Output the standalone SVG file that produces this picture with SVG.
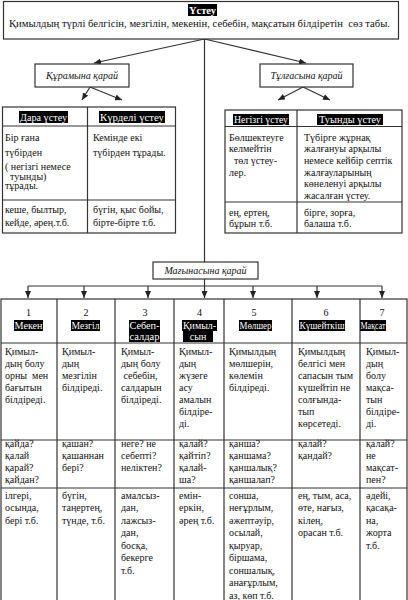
<svg xmlns="http://www.w3.org/2000/svg" width="408" height="600" viewBox="0 0 408 600">
<style>
.t{font-family:"Liberation Serif","Times New Roman",serif;font-size:10px;fill:#111;white-space:pre}
.ht{fill:#fff;text-anchor:middle}
.hl{fill:#000}
.it{font-style:italic;text-anchor:middle}
.c{text-anchor:middle}
.ln{stroke:#333;stroke-width:1.2;fill:none}
.box{fill:#fff;stroke:#333;stroke-width:1.2}
</style>
<defs>
<marker id="ah" markerUnits="userSpaceOnUse" markerWidth="8" markerHeight="6" refX="7" refY="3" orient="auto">
<path d="M0,0 L7,3 L0,6 z" fill="#222"/>
</marker>
</defs>
<rect width="408" height="600" fill="#fff"/>

<g id="connectors" class="ln">
<line x1="204.5" y1="39" x2="204.5" y2="262"/>
<line x1="204.5" y1="39" x2="94" y2="63" marker-end="url(#ah)"/>
<line x1="204.5" y1="39" x2="306" y2="63" marker-end="url(#ah)"/>
<line x1="90" y1="87" x2="82" y2="100" marker-end="url(#ah)"/>
<line x1="90" y1="87" x2="122" y2="100" marker-end="url(#ah)"/>
<line x1="303" y1="87" x2="278" y2="100" marker-end="url(#ah)"/>
<line x1="303" y1="87" x2="330" y2="100" marker-end="url(#ah)"/>
<line x1="204.5" y1="279" x2="204.5" y2="286"/>
<line x1="28" y1="286" x2="382" y2="286"/>
<line x1="28" y1="286" x2="28" y2="298" marker-end="url(#ah)"/>
<line x1="84" y1="286" x2="84" y2="298" marker-end="url(#ah)"/>
<line x1="148" y1="286" x2="148" y2="298" marker-end="url(#ah)"/>
<line x1="204.5" y1="286" x2="204.5" y2="298" marker-end="url(#ah)"/>
<line x1="253" y1="286" x2="253" y2="298" marker-end="url(#ah)"/>
<line x1="317" y1="286" x2="317" y2="298" marker-end="url(#ah)"/>
<line x1="382" y1="286" x2="382" y2="298" marker-end="url(#ah)"/>
</g>

<g id="ustеu-root">
<rect class="box" x="3.5" y="1.5" width="395" height="37.5"/>
<rect class="hl" x="188" y="4" width="29" height="12"/>
<text class="t ht" x="202.5" y="13.5" font-weight="bold" textLength="27" lengthAdjust="spacingAndGlyphs">Үстеу</text>
<text class="t" x="9" y="27" textLength="381" lengthAdjust="spacingAndGlyphs">Қимылдың түрлі белгісін, мезгілін, мекенін, себебін, мақсатын білдіретін  сөз табы.</text>
</g>

<g id="by-composition">
<rect class="box" x="35" y="64" width="94" height="23"/>
<text class="t it" x="82" y="79">Құрамына қарай</text>
</g>

<g id="by-form">
<rect class="box" x="260" y="64" width="93" height="23"/>
<text class="t it" x="306.5" y="79">Тұлғасына қарай</text>
</g>

<g id="table-composition">
<rect class="box" x="2.5" y="107" width="173" height="126"/>
<line class="ln" x1="87.5" y1="107" x2="87.5" y2="233"/>
<line class="ln" x1="2.5" y1="126" x2="175.5" y2="126"/>
<line class="ln" x1="2.5" y1="200" x2="175.5" y2="200"/>
<rect class="hl" x="19" y="111" width="49" height="12"/>
<text class="t ht" x="43.5" y="120.5" textLength="47" lengthAdjust="spacingAndGlyphs">Дара үстеу</text>
<rect class="hl" x="99" y="111" width="66" height="12"/>
<text class="t ht" x="132" y="120.5" textLength="64" lengthAdjust="spacingAndGlyphs">Күрделі үстеу</text>
<text class="t" x="5" y="140.5">Бір ғана</text>
<text class="t" x="5" y="155.5">түбірден</text>
<text class="t" x="5" y="169.5" font-size="9">( негізгі немесе</text>
<text class="t" x="5" y="179.5" font-size="9">  туынды)</text>
<text class="t" x="5" y="189">тұрады.</text>
<text class="t" x="93" y="140.5">Кемінде екі</text>
<text class="t" x="93" y="155.5">түбірден тұрады.</text>
<text class="t" x="5" y="212.5">кеше, былтыр,</text>
<text class="t" x="5" y="225.5">кейде, әрең.т.б.</text>
<text class="t" x="93" y="212.5">бүгін, қыс бойы,</text>
<text class="t" x="93" y="225.5">бірте-бірте т.б.</text>
</g>

<g id="table-form">
<rect class="box" x="225" y="110" width="177" height="123"/>
<line class="ln" x1="297" y1="110" x2="297" y2="233"/>
<line class="ln" x1="225" y1="126.5" x2="402" y2="126.5"/>
<line class="ln" x1="225" y1="202" x2="402" y2="202"/>
<rect class="hl" x="233" y="114" width="56" height="11"/>
<text class="t ht" x="261" y="122.5" textLength="54" lengthAdjust="spacingAndGlyphs">Негізгі үстеу</text>
<rect class="hl" x="317" y="114" width="66" height="11"/>
<text class="t ht" x="350" y="122.5" textLength="62" lengthAdjust="spacingAndGlyphs">Туынды үстеу</text>
<text class="t" x="229" y="140.5">Бөлшектеуге</text>
<text class="t" x="229" y="152">келмейтін</text>
<text class="t" x="229" y="163.5">  төл үстеу-</text>
<text class="t" x="229" y="175.5">лер.</text>
<text class="t" x="304" y="140.5">Түбірге жұрнақ</text>
<text class="t" x="304" y="152">жалғануы арқылы</text>
<text class="t" x="304" y="163.5">немесе кейбір септік</text>
<text class="t" x="304" y="175.5">жалғауларының</text>
<text class="t" x="304" y="187">көнеленуі арқылы</text>
<text class="t" x="304" y="198.5">жасалған үстеу.</text>
<text class="t" x="229" y="215.5">ең, ертең,</text>
<text class="t" x="229" y="226.5">бұрын т.б.</text>
<text class="t" x="304" y="215.5">бірге, зорға,</text>
<text class="t" x="304" y="226.5">балаша т.б.</text>
</g>

<g id="by-meaning">
<rect class="box" x="153" y="262" width="105" height="17"/>
<text class="t it" x="205.5" y="274">Мағынасына қарай</text>
</g>

<g id="table-meaning-grid" class="ln">
<rect x="1" y="299" width="406" height="305"/>
<line x1="1" y1="343" x2="407" y2="343"/>
<line x1="1" y1="440" x2="407" y2="440"/>
<line x1="1" y1="488" x2="407" y2="488"/>
<line x1="57" y1="299" x2="57" y2="600"/>
<line x1="115" y1="299" x2="115" y2="600"/>
<line x1="174" y1="299" x2="174" y2="600"/>
<line x1="224" y1="299" x2="224" y2="600"/>
<line x1="292" y1="299" x2="292" y2="600"/>
<line x1="360" y1="299" x2="360" y2="600"/>
</g>

<g id="col-1">
<text class="t c" x="28.5" y="315.5">1</text>
<rect class="hl" x="14" y="320" width="29" height="11"/>
<text class="t ht" x="28.5" y="329" textLength="28" lengthAdjust="spacingAndGlyphs">Мекен</text>
<text class="t" x="5" y="355">Қимыл-</text>
<text class="t" x="5" y="367">дың болу</text>
<text class="t" x="5" y="379">орны  мен</text>
<text class="t" x="5" y="391">бағытын</text>
<text class="t" x="5" y="403">білдіреді.</text>
<text class="t" x="5" y="446.5">қайда?</text>
<text class="t" x="5" y="458.5">қалай</text>
<text class="t" x="5" y="470.5">қарай?</text>
<text class="t" x="5" y="482.5">қайдан?</text>
<text class="t" x="5" y="498.5">ілгері,</text>
<text class="t" x="5" y="511">осында,</text>
<text class="t" x="5" y="523.5">бері т.б.</text>
</g>

<g id="col-2">
<text class="t c" x="86" y="315.5">2</text>
<rect class="hl" x="71" y="320" width="29" height="11"/>
<text class="t ht" x="85.5" y="329" textLength="28" lengthAdjust="spacingAndGlyphs">Мезгіл</text>
<text class="t" x="62" y="355">Қимыл-</text>
<text class="t" x="62" y="367">дың</text>
<text class="t" x="62" y="379">мезгілін</text>
<text class="t" x="62" y="391">білдіреді.</text>
<text class="t" x="62" y="446.5">қашан?</text>
<text class="t" x="62" y="458.5">қашаннан</text>
<text class="t" x="62" y="470.5">бері?</text>
<text class="t" x="62" y="498.5">бүгін,</text>
<text class="t" x="62" y="511">таңертең,</text>
<text class="t" x="62" y="523.5">түнде, т.б.</text>
</g>

<g id="col-3">
<text class="t c" x="145" y="315.5">3</text>
<rect class="hl" x="129" y="320" width="31" height="11"/>
<text class="t ht" x="144.5" y="329" textLength="30" lengthAdjust="spacingAndGlyphs">Себеп-</text>
<rect class="hl" x="129" y="331" width="31" height="11"/>
<text class="t ht" x="144.5" y="340" textLength="30" lengthAdjust="spacingAndGlyphs">салдар</text>
<text class="t" x="121" y="355">Қимыл-</text>
<text class="t" x="121" y="367">дың болу</text>
<text class="t" x="121" y="379"> себебін,</text>
<text class="t" x="121" y="391">салдарын</text>
<text class="t" x="121" y="403">білдіреді.</text>
<text class="t" x="121" y="446.5">неге? не</text>
<text class="t" x="121" y="458.5">себепті?</text>
<text class="t" x="121" y="470.5">неліктен?</text>
<text class="t" x="121" y="498.5">амалсыз-</text>
<text class="t" x="121" y="511">дан,</text>
<text class="t" x="121" y="523.5">лажсыз-</text>
<text class="t" x="121" y="536">дан,</text>
<text class="t" x="121" y="548.5">босқа,</text>
<text class="t" x="121" y="561">бекерге</text>
<text class="t" x="121" y="573.5">т.б.</text>
</g>

<g id="col-4">
<text class="t c" x="199.5" y="315.5">4</text>
<rect class="hl" x="182" y="320" width="35" height="11"/>
<text class="t ht" x="199.5" y="329" textLength="33" lengthAdjust="spacingAndGlyphs">Қимыл-</text>
<rect class="hl" x="183" y="331" width="30" height="11"/>
<text class="t ht" x="198" y="340">сын</text>
<text class="t" x="179" y="355">Қимыл-</text>
<text class="t" x="179" y="367">дың</text>
<text class="t" x="179" y="379">жүзеге</text>
<text class="t" x="179" y="391">асу</text>
<text class="t" x="179" y="403">амалын</text>
<text class="t" x="179" y="415">білдіре-</text>
<text class="t" x="179" y="427">ді.</text>
<text class="t" x="179" y="446.5">қалай?</text>
<text class="t" x="179" y="458.5">қайтіп?</text>
<text class="t" x="179" y="470.5">қалай-</text>
<text class="t" x="179" y="482.5">ша?</text>
<text class="t" x="179" y="498.5">емін-</text>
<text class="t" x="179" y="511">еркін,</text>
<text class="t" x="179" y="523.5">әрең т.б.</text>
</g>

<g id="col-5">
<text class="t c" x="254" y="315.5">5</text>
<rect class="hl" x="239" y="320" width="33" height="11"/>
<text class="t ht" x="255.5" y="329" textLength="32" lengthAdjust="spacingAndGlyphs">Мөлшер</text>
<text class="t" x="229" y="355">Қимылдың</text>
<text class="t" x="229" y="367">мөлшерін,</text>
<text class="t" x="229" y="379">көлемін</text>
<text class="t" x="229" y="391">білдіреді.</text>
<text class="t" x="229" y="446.5">қанша?</text>
<text class="t" x="229" y="458.5">қаншама?</text>
<text class="t" x="229" y="470.5">қаншалық?</text>
<text class="t" x="229" y="482.5">қаншалап?</text>
<text class="t" x="229" y="498.5">сонша,</text>
<text class="t" x="229" y="511">неғұрлым,</text>
<text class="t" x="229" y="523.5">әжептәуір,</text>
<text class="t" x="229" y="536">осылай,</text>
<text class="t" x="229" y="548.5">қыруар,</text>
<text class="t" x="229" y="561">біршама,</text>
<text class="t" x="229" y="573.5">соншалық,</text>
<text class="t" x="229" y="586">анағұрлым,</text>
<text class="t" x="229" y="598.5">аз, көп т.б.</text>
</g>

<g id="col-6">
<text class="t c" x="326" y="315.5">6</text>
<rect class="hl" x="299" y="320" width="46" height="11"/>
<text class="t ht" x="322" y="329" textLength="45" lengthAdjust="spacingAndGlyphs">Күшейткіш</text>
<text class="t" x="298" y="355">Қимылдың</text>
<text class="t" x="298" y="367">белгісі мен</text>
<text class="t" x="298" y="379">сапасын тым</text>
<text class="t" x="298" y="391">күшейтіп не</text>
<text class="t" x="298" y="403">солғында-</text>
<text class="t" x="298" y="415">тып</text>
<text class="t" x="298" y="427">көрсетеді.</text>
<text class="t" x="298" y="446.5">қалай?</text>
<text class="t" x="298" y="458.5">қандай?</text>
<text class="t" x="298" y="498.5">ең, тым, аса,</text>
<text class="t" x="298" y="511">өте, нағыз,</text>
<text class="t" x="298" y="523.5">кілең,</text>
<text class="t" x="298" y="536">орасан т.б.</text>
</g>

<g id="col-7">
<text class="t c" x="382" y="315.5">7</text>
<rect class="hl" x="360" y="320" width="26" height="11"/>
<text class="t ht" x="373" y="329" textLength="25" lengthAdjust="spacingAndGlyphs">Мақсат</text>
<text class="t" x="366" y="355">Қимыл-</text>
<text class="t" x="366" y="367">дың</text>
<text class="t" x="366" y="379">болу</text>
<text class="t" x="366" y="391">мақса-</text>
<text class="t" x="366" y="403">тын</text>
<text class="t" x="366" y="415">білдіре-</text>
<text class="t" x="366" y="427">ді.</text>
<text class="t" x="366" y="446.5">қалай?</text>
<text class="t" x="366" y="458.5">не</text>
<text class="t" x="366" y="470.5">мақсат-</text>
<text class="t" x="366" y="482.5">пен?</text>
<text class="t" x="366" y="498.5">әдейі,</text>
<text class="t" x="366" y="511">қасақа-</text>
<text class="t" x="366" y="523.5">на,</text>
<text class="t" x="366" y="536">жорта</text>
<text class="t" x="366" y="548.5">т.б.</text>
</g>
</svg>
